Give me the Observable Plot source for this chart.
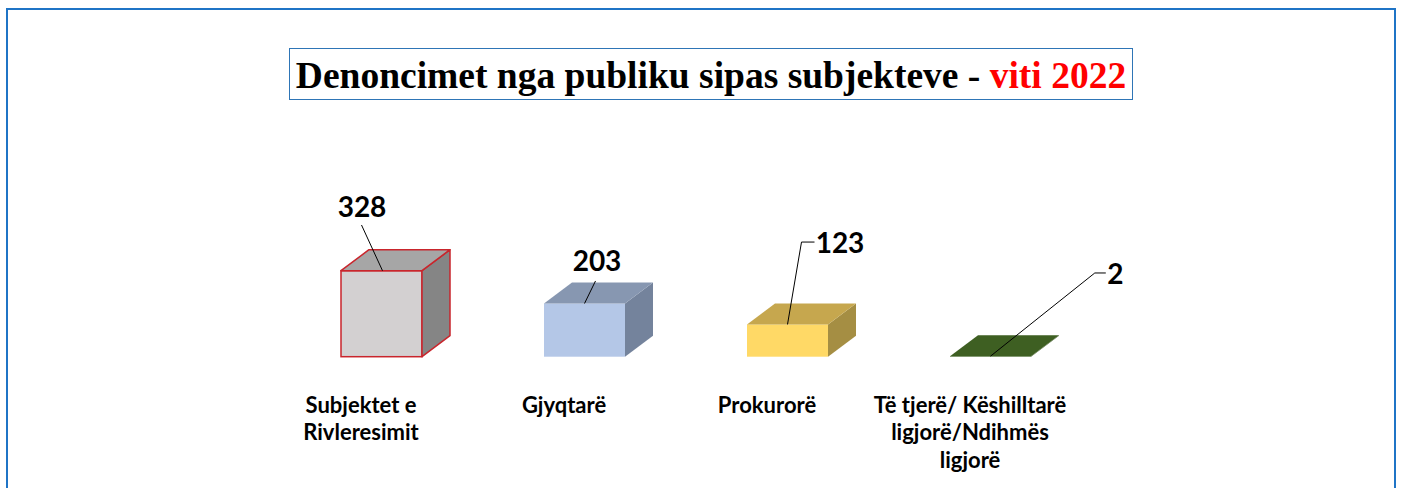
<!DOCTYPE html>
<html>
<head>
<meta charset="utf-8">
<script src="https://cdn.jsdelivr.net/npm/d3@7"></script>
<script src="https://cdn.jsdelivr.net/npm/@observablehq/plot@0.6"></script>
<style>
  html, body { margin: 0; padding: 0; background: #fff; }
  body { width: 1403px; height: 488px; overflow: hidden; position: relative; font-family: Lato, sans-serif; }
  #frame { position: absolute; left: 6px; top: 7.5px; width: 1390px; height: 600px; border: 2px solid #1F74C6; box-sizing: border-box; }
  #title { position: absolute; left: 289px; top: 48px; width: 844px; height: 52px; border: 1.5px solid #2E75B6; box-sizing: border-box;
           font-family: "Liberation Serif", "Times New Roman", serif; font-weight: bold; font-size: 37.5px; text-align: center;
           line-height: 44px; padding-top: 5px; white-space: nowrap; color: #000; }
  #title .red { color: #FF0000; }
  #chart { position: absolute; left: 0; top: 170px; }
</style>
</head>
<body>
<div id="frame"></div>
<div id="title">Denoncimet nga publiku sipas subjekteve - <span class="red">viti 2022</span></div>
<div id="chart"></div>
<script>
// ---- data ----
const categories = ["Subjektet e Rivleresimit", "Gjyqtarë", "Prokurorë", "Të tjerë/ Këshilltarë ligjorë/Ndihmës ligjorë"];
const values = [328, 203, 123, 2];
const tickLabels = ["Subjektet e\nRivleresimit", "Gjyqtarë", "Prokurorë", "Të tjerë/ Këshilltarë\nligjorë/Ndihmës\nligjorë"];
const valueLabels = ["328", "203", "123", "2"];

// ---- styles ----
const frontColors = ["#D3D0D1", "#B4C7E7", "#FFD966", "#44652A"];
const topColors   = ["#A6A6A6", "#8797B1", "#C6A74E", "#3E5F22"];
const sideColors  = ["#858585", "#74839C", "#A58E43", "#34501C"];
const edgeColors  = ["#C9252C", null, null, null];
const depth = [28, 21];
// label nudges (px) relative to the front-top centre of each box
const labelNudge = [[-20, -62.7], [12, -41.5], [52, -81.4], [124.3, -81.2]];
// leader line bends (px) relative to the label centre
const leaderBends = [[[0, 17]], [[-1, 19]], [[-38, -1], [-25, -1]], [[-20, -2], [-9, -2]]];

const data = categories.map((c, i) => ({name: c, value: values[i], i}));

function box3d(index, scales, vals, dimensions, context, next) {
  const g = next(index, scales, vals, dimensions, context);
  const rects = Array.from(g.querySelectorAll("rect"));
  const ns = "http://www.w3.org/2000/svg";
  const [dx, dy] = depth;
  rects.forEach((r, k) => {
    const i = index[k];
    const x = +r.getAttribute("x"), y = +r.getAttribute("y");
    const w = +r.getAttribute("width"), h = +r.getAttribute("height");
    const edge = edgeColors[i];
    if (edge) { r.setAttribute("stroke", edge); r.setAttribute("stroke-width", 1.5); }
    const top = document.createElementNS(ns, "polygon");
    top.setAttribute("points", [[x, y], [x + w, y], [x + w + dx, y - dy], [x + dx, y - dy]].map(p => p.join(",")).join(" "));
    top.setAttribute("fill", topColors[i]);
    const side = document.createElementNS(ns, "polygon");
    side.setAttribute("points", [[x + w, y], [x + w + dx, y - dy], [x + w + dx, y + h - dy], [x + w, y + h]].map(p => p.join(",")).join(" "));
    side.setAttribute("fill", sideColors[i]);
    if (edge) {
      for (const p of [top, side]) { p.setAttribute("stroke", edge); p.setAttribute("stroke-width", 1.5); p.setAttribute("stroke-linejoin", "round"); }
    }
    g.appendChild(side);
    g.appendChild(top);
    // leader line
    const cx = x + w / 2, cy = y;
    const lx = cx + labelNudge[i][0], ly = cy + labelNudge[i][1];
    const pts = [[cx + (i === 0 ? 1 : 0), cy], ...leaderBends[i].map(([a, b]) => [lx + a, ly + b])];
    const path = document.createElementNS(ns, "path");
    path.setAttribute("d", "M" + pts.map(p => p.join(",")).join("L"));
    path.setAttribute("fill", "none");
    path.setAttribute("stroke", "#000");
    path.setAttribute("stroke-width", 1);
    g.appendChild(path);
  });
  return g;
}

const plot = Plot.plot({
  width: 1403,
  height: 318,
  marginLeft: 217.5,
  marginRight: 248,
  marginTop: 100.7,
  marginBottom: 131.3,
  style: {fontFamily: "Lato, sans-serif", background: "transparent", color: "#000"},
  x: {domain: categories, padding: 0.6, label: null},
  y: {domain: [0, d3.max(values)], axis: null},
  marks: [
    Plot.barY(data, {x: "name", y: "value", fill: d => frontColors[d.i], inset: 0, render: box3d}),
    ...data.map((d, i) => Plot.text([d], {
      x: "name", y: "value", text: () => valueLabels[i],
      dx: labelNudge[i][0], dy: labelNudge[i][1],
      fontSize: 28, fontWeight: "bold", fill: "#000"
    })),
    Plot.axisX({
      tickSize: 0, tickPadding: 36, dx: -21, label: null,
      tickFormat: d => tickLabels[categories.indexOf(d)],
      fontSize: 22, fontWeight: "bold", lineHeight: 1.25, fill: "#000"
    })
  ]
});
document.getElementById("chart").appendChild(plot);
</script>
</body>
</html>
